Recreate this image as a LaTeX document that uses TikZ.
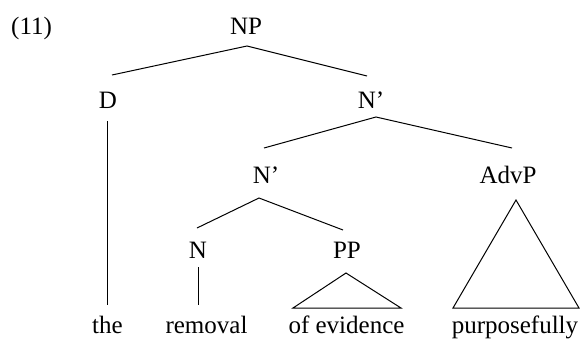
\documentclass[tikz,border=0pt]{standalone}
\usepackage{fontspec}
\setmainfont{Liberation Serif}
\begin{document}
\begin{tikzpicture}[x=1pt,y=-1pt,
  lab/.style={anchor=base, inner sep=0pt, font=\fontsize{25}{30}\selectfont},
  edge/.style={line width=1pt, line join=miter}]
\useasboundingbox (0,0) rectangle (587,338);

% category labels
\node[lab, anchor=base west] (ex) at (11,34) {(11)};
\node[lab] (np)  at (246,34)  {NP};
\node[lab] (d)   at (108,108) {D};
\node[lab] (nb1) at (371,108) {N’};
\node[lab] (nb2) at (266,183) {N’};
\node[lab] (adv) at (508,183) {AdvP};
\node[lab] (n)   at (198,258) {N};
\node[lab] (pp)  at (347,258) {PP};

% terminal words
\node[lab] (w1) at (107.5,333) {the};
\node[lab] (w2) at (206.5,333) {removal};
\node[lab] (w3) at (346.5,333) {of evidence};
\node[lab] (w4) at (515,333)   {purposefully};

% attachment points of the branches
\coordinate (np-lo)  at (247,46);
\coordinate (d-hi)   at (112,75);
\coordinate (d-lo)   at (107,121);
\coordinate (w1-hi)  at (107,305);
\coordinate (nb1-hi) at (367,76);
\coordinate (nb1-lo) at (376,117);
\coordinate (nb2-hi) at (264,148);
\coordinate (adv-hi) at (512,148);
\coordinate (nb2-lo) at (259,198);
\coordinate (n-hi)   at (197,228);
\coordinate (n-lo)   at (198,267);
\coordinate (w2-hi)  at (198,305);
\coordinate (pp-hi)  at (343,230);
\coordinate (pp-lo)  at (346,273);
\coordinate (w3-l)   at (293,308);
\coordinate (w3-r)   at (401,308);
\coordinate (adv-lo) at (516,200);
\coordinate (w4-l)   at (453,308);
\coordinate (w4-r)   at (579,308);

% branches
\draw[edge] (d-hi) -- (np-lo) -- (nb1-hi);
\draw[edge] (nb2-hi) -- (nb1-lo) -- (adv-hi);
\draw[edge] (n-hi) -- (nb2-lo) -- (pp-hi);
\draw[edge] (d-lo) -- (w1-hi);
\draw[edge] (n-lo) -- (w2-hi);

% triangles over unanalysed phrases
\draw[edge] (pp-lo) -- (w3-r) -- (w3-l) -- cycle;
\draw[edge] (adv-lo) -- (w4-r) -- (w4-l) -- cycle;
\end{tikzpicture}
\end{document}
